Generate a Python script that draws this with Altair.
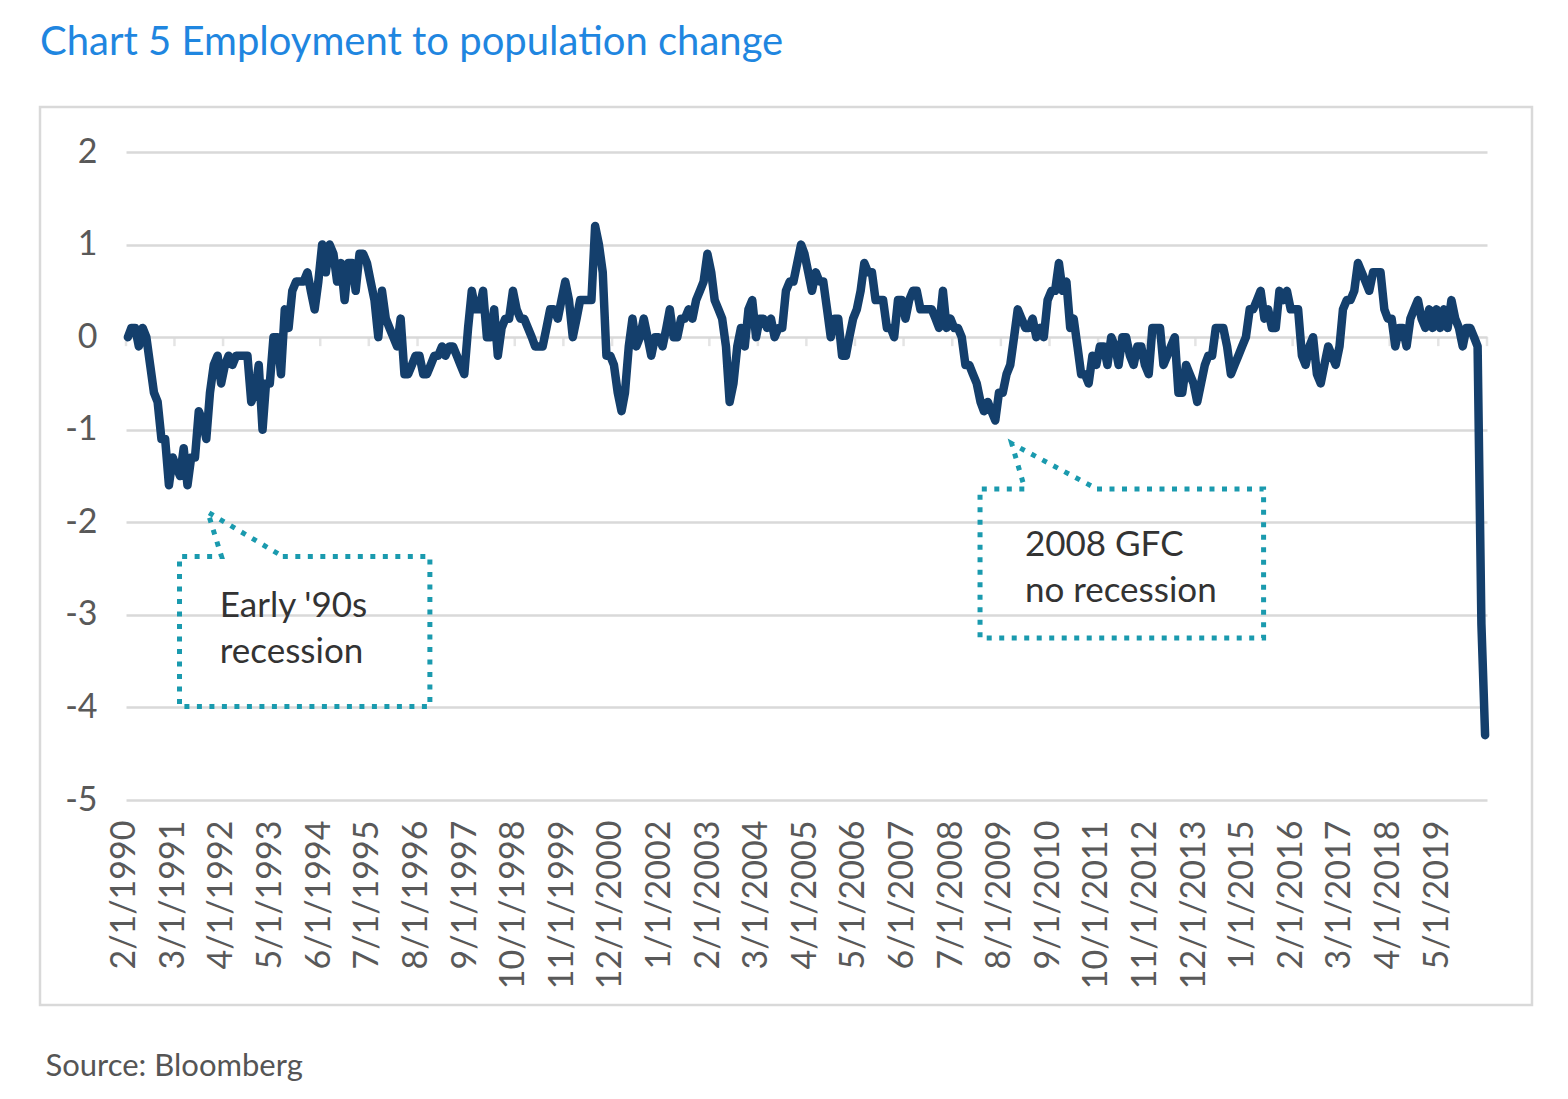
import altair as alt
import pandas as pd

# ---- data (monthly, Feb 1990 - May 2020) ----
start_month = "1990-02-01"
values_1990s = [
    0.0, 0.1, 0.1, -0.1, 0.1, 0.0, -0.3, -0.6, -0.7, -1.1, -1.1,
    -1.6, -1.3, -1.4, -1.5, -1.2, -1.6, -1.3, -1.3, -0.8, -0.9, -1.1, -0.6,
    -0.3, -0.2, -0.5, -0.3, -0.2, -0.3, -0.2, -0.2, -0.2, -0.2, -0.7, -0.6,
    -0.3, -1.0, -0.5, -0.5, 0.0, 0.0, -0.4, 0.3, 0.1, 0.5, 0.6, 0.6,
    0.6, 0.7, 0.5, 0.3, 0.6, 1.0, 0.7, 1.0, 0.9, 0.6, 0.8, 0.4,
    0.8, 0.8, 0.5, 0.9, 0.9, 0.8, 0.6, 0.4, 0.0, 0.5, 0.2, 0.1,
    0.0, -0.1, 0.2, -0.4, -0.4, -0.3, -0.2, -0.2, -0.4, -0.4, -0.3, -0.2,
    -0.2, -0.1, -0.2, -0.1, -0.1, -0.2, -0.3, -0.4, 0.1, 0.5, 0.3, 0.3,
    0.5, 0.0, 0.0, 0.3, -0.2, 0.1, 0.2, 0.2, 0.5, 0.3, 0.2, 0.2,
    0.1, 0.0, -0.1, -0.1, -0.1, 0.1, 0.3, 0.3, 0.2, 0.4, 0.6, 0.4,
]
values_2000s = [
    0.0, 0.2, 0.4, 0.4, 0.4, 0.4, 1.2, 1.0, 0.7, -0.2, -0.2, -0.3,
    -0.6, -0.8, -0.6, -0.1, 0.2, -0.1, 0.0, 0.2, 0.0, -0.2, 0.0, 0.0,
    -0.1, 0.1, 0.3, 0.0, 0.0, 0.2, 0.2, 0.3, 0.2, 0.4, 0.5, 0.6,
    0.9, 0.7, 0.4, 0.3, 0.2, -0.1, -0.7, -0.5, -0.1, 0.1, -0.1, 0.3,
    0.4, 0.0, 0.2, 0.2, 0.1, 0.2, 0.0, 0.1, 0.1, 0.5, 0.6, 0.6,
    0.8, 1.0, 0.9, 0.7, 0.5, 0.7, 0.6, 0.6, 0.3, 0.0, 0.2, 0.2,
    -0.2, -0.2, 0.0, 0.2, 0.3, 0.5, 0.8, 0.7, 0.7, 0.4, 0.4, 0.4,
    0.1, 0.1, 0.0, 0.4, 0.4, 0.2, 0.4, 0.5, 0.5, 0.3, 0.3, 0.3,
    0.3, 0.2, 0.1, 0.5, 0.1, 0.2, 0.1, 0.1, 0.0, -0.3, -0.3, -0.4,
    -0.5, -0.7, -0.8, -0.7, -0.8, -0.9, -0.6, -0.6, -0.4, -0.3, 0.0, 0.3,
]
values_2010s = [
    0.2, 0.1, 0.1, 0.2, 0.0, 0.1, 0.0, 0.4, 0.5, 0.5, 0.8, 0.5,
    0.6, 0.1, 0.2, -0.1, -0.4, -0.4, -0.5, -0.2, -0.3, -0.1, -0.1, -0.3,
    0.0, -0.1, -0.3, 0.0, 0.0, -0.2, -0.3, -0.1, -0.1, -0.3, -0.4, 0.1,
    0.1, 0.1, -0.3, -0.2, -0.1, 0.0, -0.6, -0.6, -0.3, -0.4, -0.5, -0.7,
    -0.5, -0.3, -0.2, -0.2, 0.1, 0.1, 0.1, -0.1, -0.4, -0.3, -0.2, -0.1,
    0.0, 0.3, 0.3, 0.4, 0.5, 0.2, 0.3, 0.1, 0.1, 0.5, 0.4, 0.5,
    0.3, 0.3, 0.3, -0.2, -0.3, -0.1, 0.0, -0.4, -0.5, -0.3, -0.1, -0.2,
    -0.3, -0.1, 0.3, 0.4, 0.4, 0.5, 0.8, 0.7, 0.6, 0.5, 0.7, 0.7,
    0.7, 0.3, 0.2, 0.2, -0.1, 0.1, 0.1, -0.1, 0.2, 0.3, 0.4, 0.2,
    0.1, 0.3, 0.1, 0.3, 0.1, 0.3, 0.1, 0.4, 0.2, 0.1, -0.1, 0.1,
    0.1, 0.0, -0.1, -3.1, -4.3,
]

tick_labels = [
    "1990-02-01", "1991-03-01", "1992-04-01", "1993-05-01", "1994-06-01",
    "1995-07-01", "1996-08-01", "1997-09-01", "1998-10-01", "1999-11-01",
    "2000-12-01", "2002-01-01", "2003-02-01", "2004-03-01", "2005-04-01",
    "2006-05-01", "2007-06-01", "2008-07-01", "2009-08-01", "2010-09-01",
    "2011-10-01", "2012-11-01", "2013-12-01", "2015-01-01", "2016-02-01",
    "2017-03-01", "2018-04-01", "2019-05-01",
]
y_ticks = [-5, -4, -3, -2, -1, 0, 1, 2]

# annotation callouts (in data units: date, value)
box1_dates = ["1993-07-16", "1996-10-25", "1996-10-25", "1991-03-28",
              "1991-03-28", "1992-03-04", "1991-11-13", "1993-07-16"]
box1_vals = [-2.37, -2.37, -3.99, -3.99, -2.37, -2.37, -1.89, -2.37]
box2_dates = ["2011-09-07", "2015-05-25", "2015-05-25", "2009-01-28",
              "2009-01-28", "2010-01-28", "2009-10-13", "2011-09-07"]
box2_vals = [-1.64, -1.64, -3.25, -3.25, -1.64, -1.64, -1.15, -1.64]
note_texts = ["Early '90s\nrecession", "2008 GFC\nno recession"]
note_dates = ["1992-02-19", "2010-01-28"]
note_vals = [-3.02, -2.36]

# ---- build tables ----
values = values_1990s + values_2000s + values_2010s
dates = pd.date_range(start_month, periods=len(values), freq="MS")
df = pd.DataFrame({"date": dates.strftime("%Y-%m-%d"), "value": values})


def ms(d):
    return int(pd.Timestamp(d, tz="UTC").value // 10**6)


# category boundaries (ticks sit between months, every 13 months)
bounds_ms = []
all_months = pd.date_range(pd.Timestamp(start_month) - pd.DateOffset(months=1),
                           periods=len(values) + 2, freq="MS")
for k in range(0, len(values) + 1, 13):
    a, b = all_months[k], all_months[k + 1]
    bounds_ms.append(int(((a.value + b.value) // 2) // 10**6))
ticks_df = pd.DataFrame({"t": bounds_ms})
ticks_df["t"] = pd.to_datetime(ticks_df["t"], unit="ms").dt.strftime("%Y-%m-%dT%H:%M:%SZ")

dom_lo = (all_months[0].value + all_months[1].value) // 2 // 10**6
dom_hi = (all_months[-2].value + all_months[-1].value) // 2 // 10**6

ann = pd.DataFrame({
    "date": box1_dates + box2_dates,
    "value": box1_vals + box2_vals,
    "ord": list(range(len(box1_dates))) + list(range(len(box2_dates))),
    "box": ["a"] * len(box1_dates) + ["b"] * len(box2_dates),
})
notes = pd.DataFrame({"date": note_dates, "value": note_vals, "label": note_texts})

FONT = "Lato"
x_scale = alt.Scale(type="utc", domain=[int(dom_lo), int(dom_hi)])
y_scale = alt.Scale(domain=[-5, 2], nice=False, zero=False)

x_enc = alt.X(
    "date:T", scale=x_scale,
    axis=alt.Axis(
        values=[ms(d) for d in tick_labels], format="%-m/%-d/%Y",
        labelAngle=-90, labelFontSize=34, labelFont=FONT, labelColor="#595959",
        labelPadding=20, labelOffset=-3, ticks=False, tickSize=0, domain=False,
        grid=False, labelOverlap=False, labelFlush=False,
        title="Source: Bloomberg", titleX=-81, titleY=275, titleAlign="left",
        titleAnchor="start", titleAngle=0, titleBaseline="alphabetic",
        titleFontSize=31, titleFont=FONT, titleFontWeight="normal",
        titleColor="#555555",
    ),
)
y_enc = alt.Y(
    "value:Q", scale=y_scale,
    axis=alt.Axis(
        values=y_ticks, labelExpr="'' + datum.value",
        labelFontSize=34, labelFont=FONT, labelColor="#595959",
        labelPadding=29, ticks=False, tickSize=0, domain=False,
        grid=True, gridColor="#D9D9D9", gridWidth=2.5, title=None,
    ),
)

frame = alt.Chart(pd.DataFrame({"a": [0]})).mark_rect(
    fillOpacity=0, stroke="#D9D9D9", strokeWidth=2.5
).encode(x=alt.value(-86), x2=alt.value(1406), y=alt.value(-45), y2=alt.value(853))

ticks = alt.Chart(ticks_df).mark_tick(
    orient="vertical", size=9, thickness=2.5, color="#D9D9D9", yOffset=4.5
).encode(x=alt.X("t:T", scale=x_scale), y=alt.datum(0, scale=y_scale))

callouts = alt.Chart(ann).mark_line(
    color="#1A9AAE", strokeWidth=5, strokeDash=[5, 7.5], strokeCap="butt",
    strokeJoin="miter"
).encode(
    x=alt.X("date:T", scale=x_scale), y=alt.Y("value:Q", scale=y_scale),
    order="ord:Q", detail="box:N",
)

note_text = alt.Chart(notes).mark_text(
    align="left", baseline="alphabetic", font=FONT, fontSize=35,
    color="#333333", lineBreak="\n", lineHeight=46
).encode(x=alt.X("date:T", scale=x_scale), y=alt.Y("value:Q", scale=y_scale),
         text="label:N")

line = alt.Chart(df).mark_line(
    color="#143F6C", strokeWidth=8.5, strokeJoin="round", strokeCap="round"
).encode(x=x_enc, y=y_enc)

chart = alt.layer(frame, ticks, callouts, note_text, line).properties(
    width=1361, height=648,
    autosize="none",
    background="white",
    padding={"left": 118, "top": 144, "right": 73, "bottom": 291},
    title=alt.TitleParams(
        text="Chart 5 Employment to population change", anchor="start",
        frame="group", dx=-86, offset=11, baseline="alphabetic",
        fontSize=40, font=FONT, fontWeight="normal", color="#1F86E0",
    ),
).configure_view(strokeWidth=0, stroke="transparent")

chart.save("out.html", embed_options={"renderer": "svg", "actions": False})
